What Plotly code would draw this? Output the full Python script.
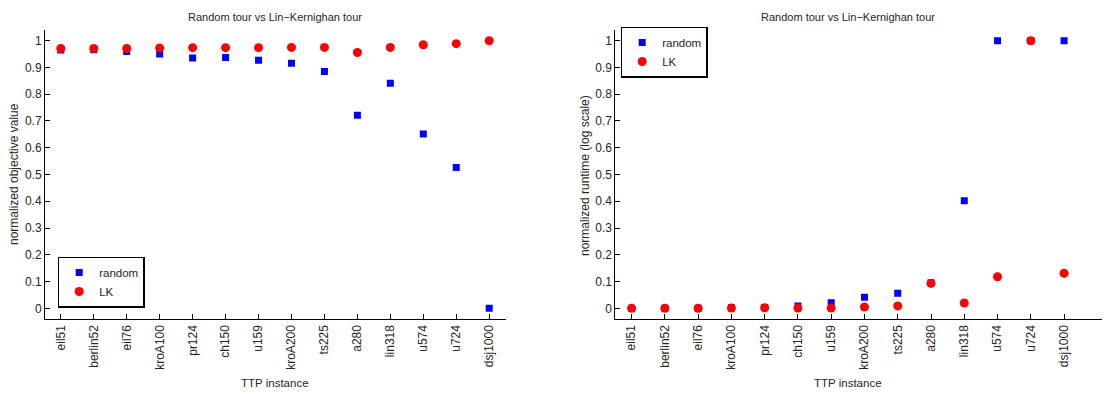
import plotly.graph_objects as go

instances = ["eil51", "berlin52", "eil76", "kroA100", "pr124", "ch150", "u159",
             "kroA200", "ts225", "a280", "lin318", "u574", "u724", "dsj1000"]

obj_random = [0.965, 0.966, 0.960, 0.950, 0.935, 0.937, 0.927, 0.916, 0.885,
              0.721, 0.841, 0.651, 0.526, 0.0]
obj_lk = [0.971, 0.971, 0.971, 0.973, 0.974, 0.974, 0.974, 0.975, 0.975,
          0.956, 0.975, 0.985, 0.989, 1.0]

rt_random = [0.0, 0.0, 0.0, 0.002, 0.003, 0.009, 0.021, 0.041, 0.056,
             0.096, 0.402, 1.0, 1.0, 1.0]
rt_lk = [0.0, 0.0, 0.0, 0.001, 0.002, 0.001, 0.001, 0.005, 0.009,
         0.093, 0.020, 0.118, 1.0, 0.131]

yticks = [0, 0.1, 0.2, 0.3, 0.4, 0.5, 0.6, 0.7, 0.8, 0.9, 1]
ytick_text = ["0", "0.1", "0.2", "0.3", "0.4", "0.5", "0.6", "0.7", "0.8", "0.9", "1"]

# page body has an 8px margin; size the figure so it fills the 1110x394 window
OFF = 8
W, H = 1110 - OFF, 394 - OFF
FONT = "Liberation Sans, Arial, sans-serif"
TXT = "#262626"
BLUE = "#0000ff"
RED = "#ff0000"

def px_x(p):
    return (p - OFF) / W

def px_y(p):
    return (H - (p - OFF)) / H

fig = go.Figure()
xs = list(range(len(instances)))

fig.add_trace(go.Scatter(x=xs, y=obj_random, mode="markers", name="random",
                         marker=dict(symbol="square", size=7, color=BLUE),
                         xaxis="x", yaxis="y", legend="legend"))
fig.add_trace(go.Scatter(x=xs, y=obj_lk, mode="markers", name="LK",
                         marker=dict(symbol="circle", size=9, color=RED),
                         xaxis="x", yaxis="y", legend="legend"))
fig.add_trace(go.Scatter(x=xs, y=rt_random, mode="markers", name="random",
                         marker=dict(symbol="square", size=7, color=BLUE),
                         xaxis="x2", yaxis="y2", legend="legend2"))
fig.add_trace(go.Scatter(x=xs, y=rt_lk, mode="markers", name="LK",
                         marker=dict(symbol="circle", size=9, color=RED),
                         xaxis="x2", yaxis="y2", legend="legend2"))

ydom = [px_y(319.3), px_y(30)]
common_x = dict(tickmode="array", tickvals=xs, ticktext=instances, tickangle=-90,
                ticks="inside", ticklen=5, tickcolor="black", showline=True,
                linecolor="black", linewidth=1, showgrid=False, zeroline=False,
                tickfont=dict(family=FONT, size=12, color=TXT))
common_y = dict(tickmode="array", tickvals=yticks, ticktext=ytick_text,
                ticks="inside", ticklen=5, tickcolor="black", showline=True,
                linecolor="black", linewidth=1, showgrid=False, zeroline=False,
                range=[-0.041, 1.04], domain=ydom,
                tickfont=dict(family=FONT, size=12, color=TXT))

fig.update_layout(
    width=W, height=H,
    margin=dict(l=0, r=0, t=0, b=0),
    paper_bgcolor="white", plot_bgcolor="white",
    font=dict(family=FONT, color=TXT),
    xaxis=dict(common_x, domain=[px_x(45), px_x(505.7)], range=[-0.48, 13.5], anchor="y"),
    yaxis=dict(common_y, anchor="x"),
    xaxis2=dict(common_x, domain=[px_x(615.3), 1.0], range=[-0.49, 14.38], anchor="y2"),
    yaxis2=dict(common_y, anchor="x2"),
    legend=dict(x=px_x(57.7), y=px_y(282), xanchor="left", yanchor="middle",
                bordercolor="black", borderwidth=1.5, bgcolor="white",
                font=dict(family=FONT, size=11.5, color=TXT), tracegroupgap=0,
                itemwidth=30),
    legend2=dict(x=px_x(620.7), y=px_y(52), xanchor="left", yanchor="middle",
                 bordercolor="black", borderwidth=1.5, bgcolor="white",
                 font=dict(family=FONT, size=11.5, color=TXT), tracegroupgap=0,
                 itemwidth=30),
    showlegend=True,
)

annots = [
    dict(text="Random tour vs Lin\u2212Kernighan tour", x=px_x(275.3), y=px_y(17), size=11),
    dict(text="Random tour vs Lin\u2212Kernighan tour", x=px_x(848), y=px_y(17), size=11),
    dict(text="TTP instance", x=px_x(275.3), y=px_y(383), size=11.5),
    dict(text="TTP instance", x=px_x(848), y=px_y(383), size=11.5),
    dict(text="normalized objective value", x=px_x(14), y=px_y(174), size=12, textangle=-90),
    dict(text="normalized runtime (log scale)", x=px_x(585), y=px_y(176), size=12, textangle=-90),
]
for a in annots:
    size = a.pop("size")
    fig.add_annotation(xref="paper", yref="paper", showarrow=False,
                       xanchor="center", yanchor="middle",
                       font=dict(family=FONT, size=size, color=TXT), **a)

fig.write_html("out.html")
